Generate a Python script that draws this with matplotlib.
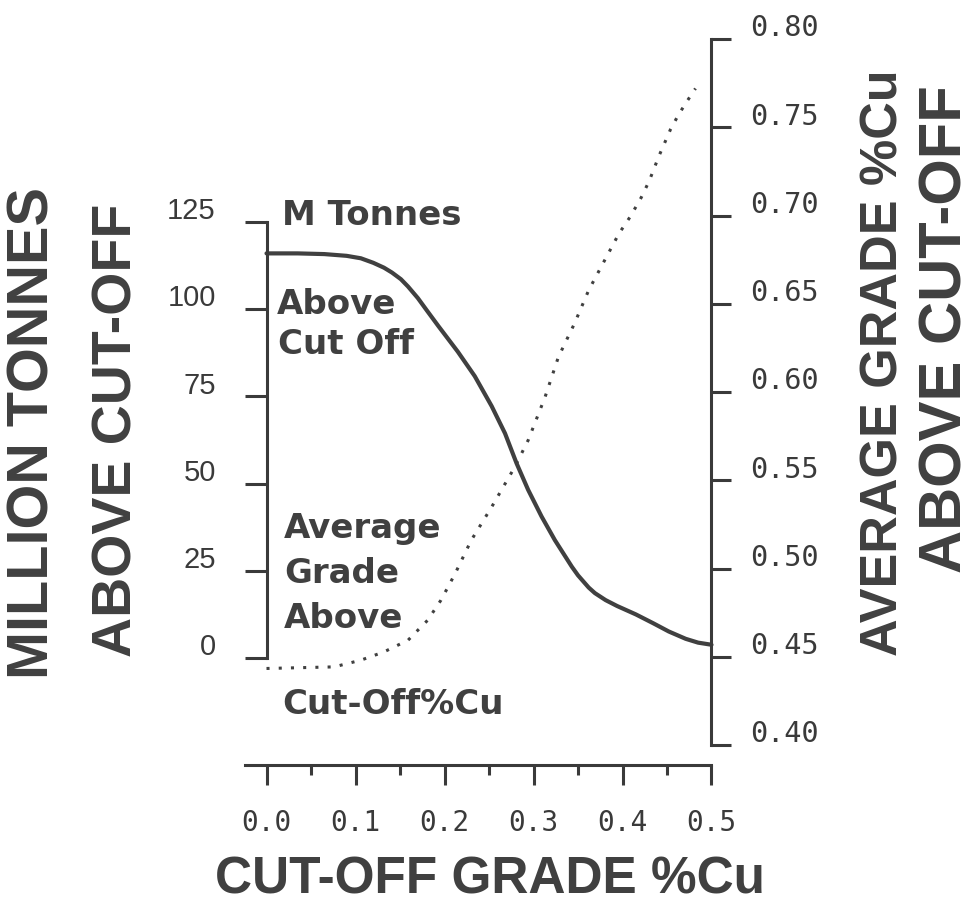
import matplotlib
matplotlib.use("Agg")
import matplotlib.pyplot as plt
from matplotlib.transforms import ScaledTranslation
from matplotlib.ticker import MultipleLocator

# Tonnage above cut-off (solid line)
cutoff_t = [0.0, 0.035, 0.065, 0.090, 0.106, 0.120, 0.132, 0.141, 0.151, 0.159,
            0.170, 0.180, 0.193, 0.215, 0.234, 0.253, 0.268, 0.281, 0.294, 0.309,
            0.324, 0.343, 0.350, 0.362, 0.369, 0.381, 0.394, 0.415, 0.435, 0.452,
            0.471, 0.485, 0.5]
tonnes = [116.0, 116.0, 115.8, 115.3, 114.6, 113.3, 111.9, 110.5, 108.6, 106.5,
          103.2, 99.7, 95.2, 87.8, 80.8, 72.2, 64.4, 55.8, 48.2, 40.6,
          33.8, 26.2, 23.7, 20.2, 18.6, 16.6, 14.9, 12.5, 9.9, 7.6,
          5.5, 4.4, 3.8]

# Average grade above cut-off (dotted line)
cutoff_g = [0.0, 0.076, 0.106, 0.132, 0.159, 0.181, 0.196, 0.212, 0.230, 0.253,
            0.279, 0.294, 0.313, 0.328, 0.346, 0.362, 0.373, 0.382, 0.396, 0.409,
            0.421, 0.430, 0.441, 0.454, 0.463, 0.472, 0.482]
grade = [0.4435, 0.4444, 0.4482, 0.4529, 0.4595, 0.4708, 0.4822, 0.4973, 0.5161, 0.5350,
         0.5577, 0.5728, 0.5973, 0.6200, 0.6389, 0.6578, 0.6682, 0.6767, 0.6899, 0.6997,
         0.7103, 0.7197, 0.7339, 0.7490, 0.7573, 0.7645, 0.7721]

x_ticks = [0.0, 0.1, 0.2, 0.3, 0.4, 0.5]
x_labels = ["0.0", "0.1", "0.2", "0.3", "0.4", "0.5"]
t_ticks = [0, 25, 50, 75, 100, 125]
g_ticks = [0.40, 0.45, 0.50, 0.55, 0.60, 0.65, 0.70, 0.75, 0.80]
g_labels = ["0.40", "0.45", "0.50", "0.55", "0.60", "0.65", "0.70", "0.75", "0.80"]

INK = "#3a3a3a"
W, H = 976, 906

# pixel layout of the scan
X0, PX_X = 266.5, 890.0        # x=0 position, px per unit cut-off
T0, PX_T = 658.0, 3.488        # tonnes=0 position, px per Mt
G45, PX_G = 657.0, 1765.0      # grade=0.45 position, px per %Cu
BOX_L, BOX_R, BOX_T, BOX_B = 230, 720, 25, 790

fig = plt.figure(figsize=(W / 100, H / 100), dpi=100)
ax = fig.add_axes([BOX_L / W, 1 - BOX_B / H, (BOX_R - BOX_L) / W, (BOX_B - BOX_T) / H])
ax.set_xlim((BOX_L - X0) / PX_X, (BOX_R - X0) / PX_X)
ax.set_ylim((T0 - BOX_B) / PX_T, (T0 - BOX_T) / PX_T)
ax.patch.set_alpha(0)

ax2 = ax.twinx()
ax2.set_ylim(0.45 - (BOX_B - G45) / PX_G, 0.45 + (G45 - BOX_T) / PX_G)

ax.plot(cutoff_t, tonnes, color="#404040", lw=3.0, solid_capstyle="round",
        solid_joinstyle="round")
ax2.plot(cutoff_g, grade, color="#404040", lw=2.2, linestyle=(0, (1, 3.0)))

# spines
for s in ["top", "right"]:
    ax.spines[s].set_visible(False)
for s in ["top", "left", "bottom"]:
    ax2.spines[s].set_visible(False)

ax.spines["left"].set_position(("data", 0))
ax.spines["left"].set_bounds(0, 125)
ax.spines["bottom"].set_position(("data", (T0 - 765) / PX_T))
ax.spines["bottom"].set_bounds((245 - X0) / PX_X, 0.5)
ax2.spines["right"].set_position(("data", 0.5))
ax2.spines["right"].set_bounds(0.40, 0.80)
for sp in [ax.spines["left"], ax.spines["bottom"], ax2.spines["right"]]:
    sp.set_linewidth(2.2)
    sp.set_color(INK)

# ticks
ax.set_xticks(x_ticks)
ax.set_xticklabels(x_labels, fontfamily="DejaVu Sans Mono", fontsize=20, color=INK)
ax.xaxis.set_minor_locator(MultipleLocator(0.05))
ax.tick_params(axis="x", which="major", direction="out", length=14.5, width=2.2,
               color=INK, pad=17)
ax.tick_params(axis="x", which="minor", direction="out", length=7, width=2.2, color=INK)

ax.set_yticks(t_ticks)
ax.set_yticklabels([str(t) for t in t_ticks], fontfamily="Liberation Sans",
                   fontsize=21, color=INK)
ax.tick_params(axis="y", direction="out", length=15.5, width=2.2, color=INK, pad=21)

ax2.set_yticks(g_ticks)
ax2.set_yticklabels(g_labels, fontfamily="DejaVu Sans Mono", fontsize=20.5, color=INK)
ax2.tick_params(axis="y", direction="out", length=14.5, width=2.2, color=INK, pad=13)

# labels sit a little above their ticks in the original
up = ScaledTranslation(0, 10 / 72, fig.dpi_scale_trans)
for lab in ax.get_yticklabels() + ax2.get_yticklabels():
    lab.set_transform(lab.get_transform() + up)

# in-plot notes
notes = [("M Tonnes", 282, 225), ("Above", 277, 314), ("Cut Off", 278, 354),
         ("Average", 284, 538), ("Grade", 284, 583), ("Above", 284, 628),
         ("Cut-Off%Cu", 282, 714)]
for txt, px, py in notes:
    fig.text(px / W, 1 - py / H, txt, fontsize=24.5, color="#404040",
             fontfamily="DejaVu Sans", fontweight="bold", ha="left", va="baseline")

# axis titles
lab_kw = dict(fontfamily="Liberation Sans", fontweight="bold", color="#404040",
              rotation=90, ha="center", va="center")
fig.text(34 / W, 1 - 433 / H, "MILLION TONNES", fontsize=41.5, **lab_kw)
fig.text(118 / W, 1 - 430 / H, "ABOVE CUT-OFF", fontsize=40, **lab_kw)
fig.text(884 / W, 1 - 363 / H, "AVERAGE GRADE %Cu", fontsize=37.5, **lab_kw)
fig.text(946 / W, 1 - 329 / H, "ABOVE CUT-OFF", fontsize=43, **lab_kw)
fig.text(490 / W, 1 - 880 / H, "CUT-OFF GRADE %Cu", fontsize=37,
         fontfamily="Liberation Sans", fontweight="bold", color="#404040",
         ha="center", va="center")

fig.savefig("out.png", dpi=100)
